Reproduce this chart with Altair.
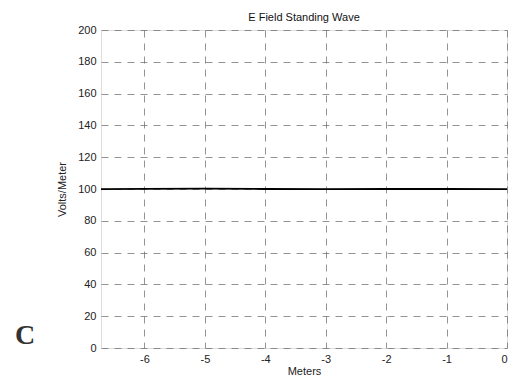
import altair as alt
import pandas as pd

# data
x_meters = [-6.72, -6.0, -5.0, -4.0, -3.0, -2.0, -1.0, 0.0]
e_field = [99.9, 100.1, 100.2, 100.0, 99.9, 100.0, 100.0, 99.9]
x_ticks = [-6, -5, -4, -3, -2, -1, 0]
y_ticks = [0, 20, 40, 60, 80, 100, 120, 140, 160, 180, 200]

df = pd.DataFrame({"x": x_meters, "y": e_field})

font = "Liberation Sans"

line = alt.Chart(df).mark_line(color="black", strokeWidth=1.8).encode(
    x=alt.X("x:Q", scale=alt.Scale(domain=[-6.72, 0], nice=False, zero=False),
            axis=alt.Axis(values=x_ticks, title="Meters", grid=True, gridDash=[7, 6],
                          gridColor="#666", gridOpacity=0.7, domain=False, ticks=False,
                          labelExpr="replace(format(datum.value, 'd'), '\u2212', '-')",
                          labelFont=font, labelFontSize=11, labelColor="#222", labelPadding=5,
                          titleFont=font, titleFontSize=11, titleFontWeight="normal",
                          titleColor="#222", titlePadding=1)),
    y=alt.Y("y:Q", scale=alt.Scale(domain=[0, 200], nice=False),
            axis=alt.Axis(values=y_ticks, title="Volts/Meter", grid=True, gridDash=[7, 6],
                          gridColor="#666", gridOpacity=0.7, domain=False, ticks=False,
                          labelFont=font, labelFontSize=11, labelColor="#222", labelPadding=5,
                          titleFont=font, titleFontSize=11, titleFontWeight="normal",
                          titleColor="#222", titlePadding=10)),
)

label_c = alt.Chart(pd.DataFrame({"t": ["C"]})).mark_text(
    font="Liberation Serif", fontSize=28, fontWeight="bold", color="#333", align="left",
    baseline="middle"
).encode(text="t:N", x=alt.value(-86), y=alt.value(306))

chart = alt.layer(line, label_c).properties(
    width=406, height=318,
    title=alt.TitleParams("E Field Standing Wave", font=font, fontSize=11,
                          fontWeight="normal", color="#111", offset=1),
    autosize=alt.AutoSizeParams(type="none"),
    padding={"left": 93, "top": 22, "right": 1, "bottom": 28},
).configure_view(stroke="black", strokeWidth=1.2).configure(background="white")

chart.save("out.html", embed_options={"renderer": "svg", "actions": False})
